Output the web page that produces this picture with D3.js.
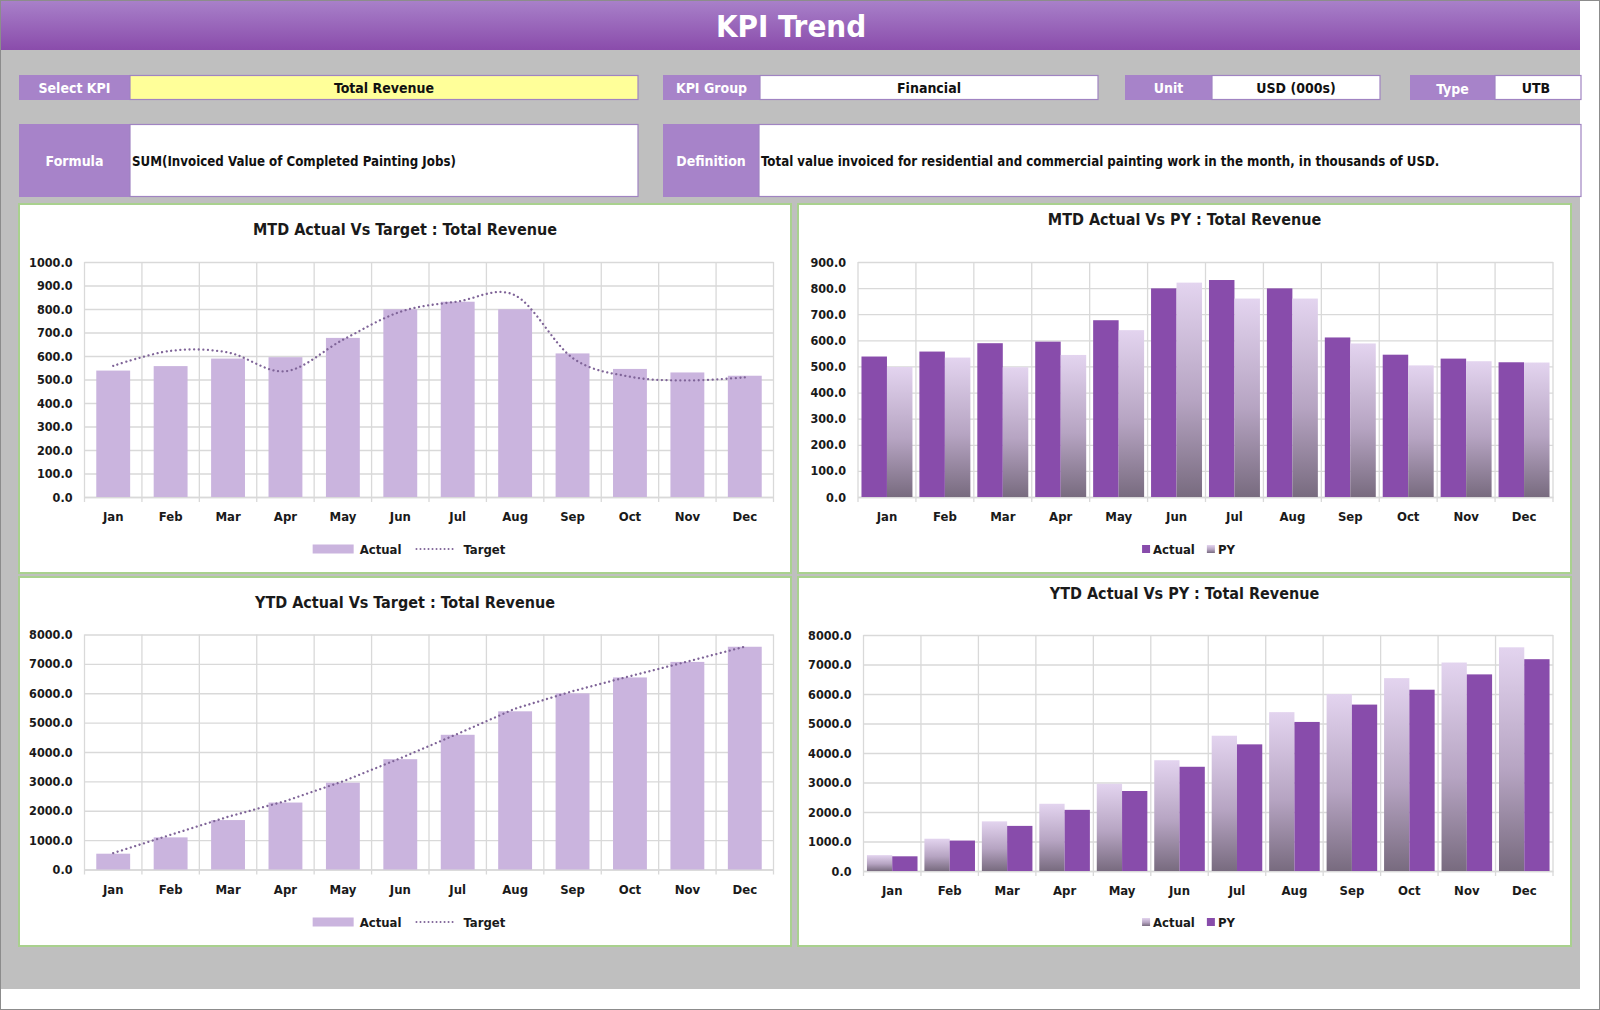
<!DOCTYPE html>
<html>
<head>
<meta charset="utf-8">
<script src="https://cdn.jsdelivr.net/npm/d3@7/dist/d3.min.js"></script>
<style>
  body { margin: 0; background: #ffffff; }
  svg { display: block; }
</style>
</head>
<body>
<script>

// chart data
var months = ["Jan", "Feb", "Mar", "Apr", "May", "Jun", "Jul", "Aug", "Sep", "Oct", "Nov", "Dec"];

var mtdActual = [538, 557, 589, 595, 677, 799, 831, 799, 611, 545, 530, 516];
var mtdTarget = [558, 622, 615, 535, 669, 788, 832, 858, 592, 512, 496, 509];
var mtdPY = [498, 534, 497, 544, 639, 821, 760, 760, 588, 504, 520, 515];

var ytdActual = [538, 1094, 1683, 2279, 2956, 3755, 4586, 5385, 5995, 6538, 7067, 7583];
var ytdTarget = [558, 1180, 1795, 2330, 2999, 3787, 4619, 5477, 6069, 6581, 7077, 7586];
var ytdPY = [498, 1032, 1529, 2073, 2712, 3533, 4293, 5053, 5641, 6145, 6665, 7180];

var mtdTargetTicks = [0, 100, 200, 300, 400, 500, 600, 700, 800, 900, 1000];
var mtdPyTicks = [0, 100, 200, 300, 400, 500, 600, 700, 800, 900];
var ytdTicks = [0, 1000, 2000, 3000, 4000, 5000, 6000, 7000, 8000];

// header fields
var pageTitle = "KPI Trend";
var fieldLabels = ["Select KPI", "KPI Group", "Unit", "Type"];
var fieldValues = ["Total Revenue", "Financial", "USD (000s)", "UTB"];
var kpiName = "Total Revenue";
var formulaText = "SUM(Invoiced Value of Completed Painting Jobs)";
var definitionText = "Total value invoiced for residential and commercial painting work in the month, in thousands of USD.";

var FONT = "'Liberation Sans Narrow', 'DejaVu Sans Condensed', 'Roboto', sans-serif";

window.onload = function() {

  var svg = d3.select("body").append("svg")
      .attr("width", 1600)
      .attr("height", 1010);

  var defs = svg.append("defs");

  var header = defs.append("linearGradient")
      .attr("id", "headerGrad")
      .attr("x1", 0).attr("y1", 0).attr("x2", 0).attr("y2", 1);
  header.append("stop").attr("offset", "0%").attr("stop-color", "#a880c9");
  header.append("stop").attr("offset", "100%").attr("stop-color", "#8a4cab");

  var pyGrad = defs.append("linearGradient")
      .attr("id", "pyGrad")
      .attr("x1", 0).attr("y1", 0).attr("x2", 0).attr("y2", 1);
  pyGrad.append("stop").attr("offset", "0%").attr("stop-color", "#e3d4ef");
  pyGrad.append("stop").attr("offset", "55%").attr("stop-color", "#b6a4c2");
  pyGrad.append("stop").attr("offset", "100%").attr("stop-color", "#786b7f");

  // page background
  svg.append("rect")
      .attr("x", 0.5).attr("y", 0.5)
      .attr("width", 1599).attr("height", 1009)
      .attr("fill", "#ffffff")
      .attr("stroke", "#8c8c8c");

  svg.append("rect")
      .attr("x", 1).attr("y", 1)
      .attr("width", 1579).attr("height", 988)
      .attr("fill", "#bfbfbf");

  svg.append("rect")
      .attr("x", 1).attr("y", 1)
      .attr("width", 1579).attr("height", 49)
      .attr("fill", "url(#headerGrad)");

  svg.append("text")
      .attr("x", 791).attr("y", 26)
      .attr("text-anchor", "middle")
      .attr("dominant-baseline", "central")
      .attr("font-family", FONT)
      .attr("font-weight", 700)
      .attr("font-size", "31px")
      .attr("fill", "#ffffff")
      .text(pageTitle);

  // info boxes: [label x, label w, value x, value w, value text x]
  var boxes = [
    [19, 111, 130, 508, 384],
    [663, 97, 760, 338, 929],
    [1125, 87, 1212, 168, 1296],
    [1410, 85, 1495, 86, 1536]
  ];

  boxes.forEach(function(b, i) {
    svg.append("rect")
        .attr("x", b[0]).attr("y", 75)
        .attr("width", b[1]).attr("height", 25)
        .attr("fill", "#a783c9");
    svg.append("text")
        .attr("x", b[0] + b[1] / 2).attr("y", 88 + (i == 3 ? 1 : 0))
        .attr("text-anchor", "middle")
        .attr("dominant-baseline", "central")
        .attr("font-family", FONT)
        .attr("font-weight", 700)
        .attr("font-size", "14px")
        .attr("fill", "#ffffff")
        .text(fieldLabels[i]);
    svg.append("rect")
        .attr("x", b[2]).attr("y", 75.5)
        .attr("width", b[3]).attr("height", 24)
        .attr("fill", i == 0 ? "#ffff99" : "#ffffff")
        .attr("stroke", "#a084c2")
        .attr("stroke-width", 1.2);
    svg.append("text")
        .attr("x", b[4]).attr("y", 88)
        .attr("text-anchor", "middle")
        .attr("dominant-baseline", "central")
        .attr("font-family", FONT)
        .attr("font-weight", 700)
        .attr("font-size", "14px")
        .attr("fill", "#111111")
        .text(fieldValues[i]);
  });

  // formula / definition row
  var rows = [
    ["Formula", 19, 111, 130, 508, formulaText],
    ["Definition", 663, 96, 759, 822, definitionText]
  ];

  rows.forEach(function(r) {
    svg.append("rect")
        .attr("x", r[1]).attr("y", 124)
        .attr("width", r[2]).attr("height", 73)
        .attr("fill", "#a783c9");
    svg.append("text")
        .attr("x", r[1] + r[2] / 2).attr("y", 161)
        .attr("text-anchor", "middle")
        .attr("dominant-baseline", "central")
        .attr("font-family", FONT)
        .attr("font-weight", 700)
        .attr("font-size", "14px")
        .attr("fill", "#ffffff")
        .text(r[0]);
    svg.append("rect")
        .attr("x", r[3]).attr("y", 124.5)
        .attr("width", r[4]).attr("height", 72)
        .attr("fill", "#ffffff")
        .attr("stroke", "#a084c2")
        .attr("stroke-width", 1.2);
    svg.append("text")
        .attr("x", r[3] + 2).attr("y", 161)
        .attr("dominant-baseline", "central")
        .attr("font-family", FONT)
        .attr("font-weight", 700)
        .attr("font-size", "13.2px")
        .attr("fill", "#111111")
        .text(r[5]);
  });

  // the four charts
  drawChart({
    card: [19, 204, 772, 369],
    plot: { left: 84.5, right: 773.5, top: 262, bottom: 497 },
    title: "MTD Actual Vs Target : " + kpiName,
    titleY: 229,
    yMax: 1000,
    ticks: mtdTargetTicks,
    kind: "barLine",
    bars: mtdActual,
    line: mtdTarget,
    smooth: true,
    legendY: 549
  });

  drawChart({
    card: [798, 204, 773, 369],
    plot: { left: 858, right: 1553, top: 262, bottom: 497 },
    title: "MTD Actual Vs PY : " + kpiName,
    titleY: 219,
    yMax: 900,
    ticks: mtdPyTicks,
    kind: "grouped",
    series: [
      { name: "Actual", values: mtdActual, fill: "#884cab" },
      { name: "PY", values: mtdPY, fill: "url(#pyGrad)" }
    ],
    legendY: 549
  });

  drawChart({
    card: [19, 577, 772, 369],
    plot: { left: 84.5, right: 773.5, top: 634.5, bottom: 869.5 },
    title: "YTD Actual Vs Target : " + kpiName,
    titleY: 602,
    yMax: 8000,
    ticks: ytdTicks,
    kind: "barLine",
    bars: ytdActual,
    line: ytdTarget,
    smooth: false,
    legendY: 922
  });

  drawChart({
    card: [798, 577, 773, 369],
    plot: { left: 863.5, right: 1553, top: 635, bottom: 871 },
    title: "YTD Actual Vs PY : " + kpiName,
    titleY: 593,
    yMax: 8000,
    ticks: ytdTicks,
    kind: "grouped",
    series: [
      { name: "Actual", values: ytdActual, fill: "url(#pyGrad)" },
      { name: "PY", values: ytdPY, fill: "#884cab" }
    ],
    legendY: 922
  });

  function drawChart(cfg) {

    var g = svg.append("g");
    var p = cfg.plot;

    g.append("rect")
        .attr("x", cfg.card[0]).attr("y", cfg.card[1])
        .attr("width", cfg.card[2]).attr("height", cfg.card[3])
        .attr("fill", "#ffffff")
        .attr("stroke", "#a9d18e")
        .attr("stroke-width", 2);

    var cx = cfg.card[0] + cfg.card[2] / 2;

    g.append("text")
        .attr("x", cx).attr("y", cfg.titleY)
        .attr("text-anchor", "middle")
        .attr("dominant-baseline", "central")
        .attr("font-family", FONT)
        .attr("font-weight", 700)
        .attr("font-size", "16px")
        .attr("fill", "#1a1a1a")
        .text(cfg.title);

    var x = d3.scaleBand()
        .domain(months)
        .range([p.left, p.right]);

    var y = d3.scaleLinear()
        .domain([0, cfg.yMax])
        .range([p.bottom, p.top]);

    // horizontal gridlines and value labels
    var yAxis = g.append("g")
        .attr("transform", "translate(" + p.left + ",0)")
        .call(d3.axisLeft(y)
            .tickValues(cfg.ticks)
            .tickSize(-(p.right - p.left))
            .tickPadding(12)
            .tickFormat(d3.format(".1f")));
    yAxis.select(".domain").remove();
    yAxis.selectAll("line")
        .attr("stroke", "#d9d9d9")
        .attr("stroke-width", 1.3);
    yAxis.selectAll("text")
        .attr("font-family", FONT)
        .attr("font-weight", 700)
        .attr("font-size", "12.5px")
        .attr("fill", "#1a1a1a");

    // vertical gridlines on the category edges, with small ticks below
    var edges = months.map(function(m) { return x(m); }).concat([p.right]);
    g.selectAll(".vgrid")
        .data(edges)
        .enter()
        .append("line")
        .attr("x1", function(d) { return d; })
        .attr("x2", function(d) { return d; })
        .attr("y1", p.top)
        .attr("y2", p.bottom + 5)
        .attr("stroke", "#d9d9d9")
        .attr("stroke-width", 1.3);

    var xAxis = g.append("g")
        .attr("transform", "translate(0," + p.bottom + ")")
        .call(d3.axisBottom(x).tickSize(0).tickPadding(15));
    xAxis.select(".domain")
        .attr("stroke", "#d9d9d9")
        .attr("stroke-width", 1.3);
    xAxis.selectAll("text")
        .attr("font-family", FONT)
        .attr("font-weight", 700)
        .attr("font-size", "13px")
        .attr("fill", "#1a1a1a");

    var legend = g.append("g");
    var lx = 0;

    if (cfg.kind == "barLine") {

      var bw = x.step() * 0.59;

      g.selectAll(".bar")
          .data(cfg.bars)
          .enter()
          .append("rect")
          .attr("x", function(d, i) { return x(months[i]) + (x.step() - bw) / 2; })
          .attr("y", function(d) { return y(d); })
          .attr("width", bw)
          .attr("height", function(d) { return p.bottom - y(d); })
          .attr("fill", "#cab4de");

      var line = d3.line()
          .x(function(d, i) { return x(months[i]) + x.step() / 2; })
          .y(function(d) { return y(d); })
          .curve(cfg.smooth ? d3.curveCardinal.tension(0) : d3.curveLinear);

      g.append("path")
          .datum(cfg.line)
          .attr("d", line)
          .attr("fill", "none")
          .attr("stroke", "#7f6498")
          .attr("stroke-width", 2.3)
          .attr("stroke-linecap", "round")
          .attr("stroke-dasharray", "0.01,4.6");

      // legend: Actual swatch, Target dotted line
      legend.append("rect")
          .attr("x", lx).attr("y", -4.5)
          .attr("width", 41).attr("height", 9)
          .attr("fill", "#cab4de");
      lx += 47;
      var t1 = legend.append("text")
          .attr("x", lx).attr("y", 0)
          .attr("dominant-baseline", "central")
          .attr("font-family", FONT)
          .attr("font-weight", 700)
          .attr("font-size", "13px")
          .attr("fill", "#1a1a1a")
          .text("Actual");
      lx += t1.node().getComputedTextLength() + 14;
      legend.append("line")
          .attr("x1", lx + 1).attr("x2", lx + 40)
          .attr("y1", 0).attr("y2", 0)
          .attr("stroke", "#7f6498")
          .attr("stroke-width", 2)
          .attr("stroke-linecap", "round")
          .attr("stroke-dasharray", "0.01,4");
      lx += 48;
      var t2 = legend.append("text")
          .attr("x", lx).attr("y", 0)
          .attr("dominant-baseline", "central")
          .attr("font-family", FONT)
          .attr("font-weight", 700)
          .attr("font-size", "13px")
          .attr("fill", "#1a1a1a")
          .text("Target");
      lx += t2.node().getComputedTextLength();

    } else {

      var groupW = x.step() * 0.88;
      var inner = d3.scaleBand()
          .domain(cfg.series.map(function(s) { return s.name; }))
          .range([0, groupW]);

      cfg.series.forEach(function(s) {
        g.selectAll(".bar-" + s.name)
            .data(s.values)
            .enter()
            .append("rect")
            .attr("x", function(d, i) {
              return x(months[i]) + (x.step() - groupW) / 2 + inner(s.name);
            })
            .attr("y", function(d) { return y(d); })
            .attr("width", inner.bandwidth())
            .attr("height", function(d) { return p.bottom - y(d); })
            .attr("fill", s.fill);

        legend.append("rect")
            .attr("x", lx).attr("y", -4)
            .attr("width", 8).attr("height", 8)
            .attr("fill", s.fill);
        lx += 11;
        var t = legend.append("text")
            .attr("x", lx).attr("y", 0)
            .attr("dominant-baseline", "central")
            .attr("font-family", FONT)
            .attr("font-weight", 700)
            .attr("font-size", "13px")
            .attr("fill", "#1a1a1a")
            .text(s.name);
        lx += t.node().getComputedTextLength() + 12;
      });
      lx -= 12;
    }

    legend.attr("transform", "translate(" + (cx + 4 - lx / 2) + "," + cfg.legendY + ")");
  }

};

</script>
</body>
</html>
